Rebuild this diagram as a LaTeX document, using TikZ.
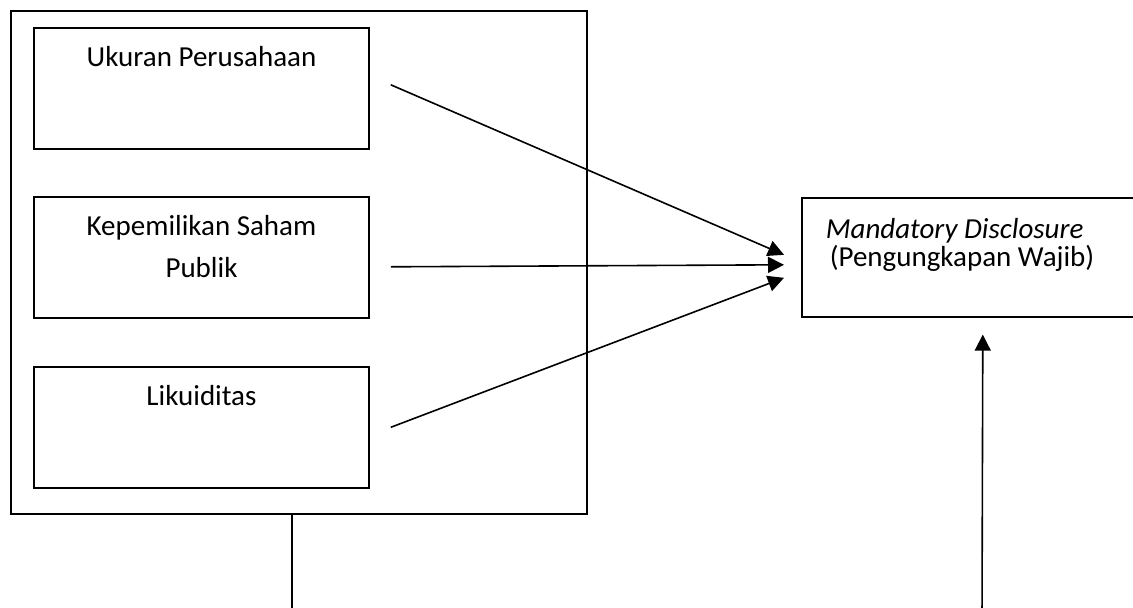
\documentclass[tikz,border=0pt]{standalone}
\usepackage{fontspec}
\setmainfont{Carlito}
\usetikzlibrary{arrows.meta}

\tikzset{
  varbox/.style={draw, line width=1.6pt, anchor=north, text width=335pt, inner xsep=0pt, inner ysep=19pt, text height=20pt, text depth=63pt, align=flush center, font=\fontsize{29}{42}\selectfont},
  link/.style={line width=1.6pt, -{Triangle[length=16pt,width=16pt]}}
}

\begin{document}
\begin{tikzpicture}[x=1pt,y=-1pt]
\useasboundingbox (0,0) rectangle (1133,608);
\clip (0,0) rectangle (1133,608);
% independent variables
\node[draw, line width=1.6pt, anchor=north west, inner sep=0pt, minimum width=576pt, minimum height=503pt] (frame) at (10,10) {};
\node[varbox] (ukuran) at (201.5,27) {Ukuran Perusahaan};
\node[varbox] (saham) at (201.5,196) {Kepemilikan Saham\\Publik};
\node[varbox] (likuid) at (201.5,366) {Likuiditas};
% dependent variable
\node[draw, line width=1.6pt, anchor=north west, inner xsep=24pt, inner ysep=21pt, text width=314pt, text height=20pt, text depth=57pt, align=flush left, font=\fontsize{29}{28}\selectfont] (wajib) at (801,197) {\textit{Mandatory Disclosure}\\\hspace{4pt}(Pengungkapan Wajib)};
\coordinate (u0) at ([xshift=21pt,yshift=3.5pt]ukuran.east);
\coordinate (s0) at ([xshift=21pt,yshift=-9.5pt]saham.east);
\coordinate (l0) at ([xshift=21pt]likuid.east);
\draw[link] (u0) -- ([xshift=-17pt,yshift=2.5pt]wajib.west);
\draw[link] (s0) -- ([xshift=-17pt,yshift=-7.5pt]wajib.west);
\draw[link] (l0) -- ([xshift=-17pt,yshift=-20.5pt]wajib.west);
% lines to the bottom
\coordinate (foot) at (292,620);
\coordinate (base) at (982,620);
\draw[line width=1.6pt] (frame.south -| foot) -- (foot);
\draw[link] (base) -- ([yshift=-17pt]wajib.south);
\end{tikzpicture}
\end{document}
